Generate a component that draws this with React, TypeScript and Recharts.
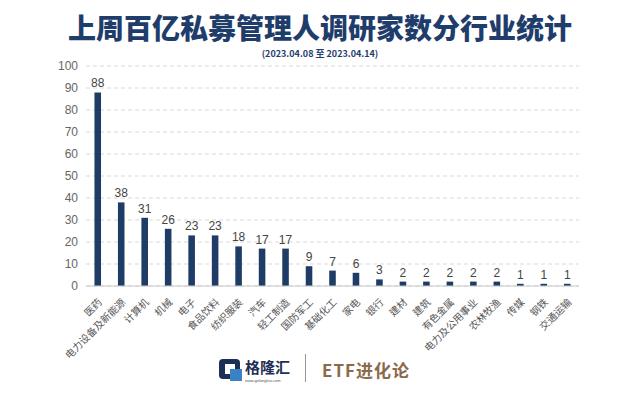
import React from 'react';
import { BarChart, Bar, XAxis, YAxis, CartesianGrid, LabelList } from 'recharts';

const industries = [
  '医药', '电力设备及新能源', '计算机', '机械', '电子', '食品饮料', '纺织服装', '汽车',
  '轻工制造', '国防军工', '基础化工', '家电', '银行', '建材', '建筑', '有色金属',
  '电力及公用事业', '农林牧渔', '传媒', '钢铁', '交通运输',
];
const counts = [88, 38, 31, 26, 23, 23, 18, 17, 17, 9, 7, 6, 3, 2, 2, 2, 2, 2, 1, 1, 1];
const yTicks = [0, 10, 20, 30, 40, 50, 60, 70, 80, 90, 100];

const chartData = industries.map((name, i) => ({ name, value: counts[i] }));

const CJK = '"Noto Sans CJK SC", "Noto Sans", sans-serif';
const LATIN = 'Arial, "Liberation Sans", sans-serif';
const barColor = '#1f3c66';

const RotatedTick = ({ x, y, payload }: any) => (
  <g transform={`translate(${x + 2},${y + 6})`}>
    <text
      x={0}
      y={0}
      dy={4}
      textAnchor="end"
      transform="rotate(-45)"
      fill="#555"
      fontSize={10}
      fontFamily={CJK}
    >
      {payload.value}
    </text>
  </g>
);

const Logo = () => (
  <div style={{ position: 'absolute', left: 219, top: 357, width: 80, height: 28 }}>
    <svg width={24} height={24} viewBox="0 0 24 24" style={{ position: 'absolute', left: 0, top: 2 }}>
      <rect x={0} y={0} width={21} height={20} rx={4} fill="#1d2f55" />
      <rect x={6} y={5} width={10} height={10} fill="#fff" />
      <rect x={11} y={10} width={12} height={12} fill="#3b82c4" />
    </svg>
    <div
      style={{
        position: 'absolute',
        left: 26,
        top: 1,
        fontFamily: CJK,
        fontWeight: 700,
        fontSize: 15,
        lineHeight: '18px',
        color: '#1d2f55',
      }}
    >
      格隆汇
    </div>
    <div
      style={{
        position: 'absolute',
        left: 26,
        top: 21,
        fontFamily: LATIN,
        fontSize: 4,
        lineHeight: '5px',
        color: '#555',
        whiteSpace: 'nowrap',
      }}
    >
      www.gelonghui.com
    </div>
  </div>
);

export default function App() {
  return (
    <div
      style={{
        position: 'fixed',
        left: 0,
        top: 0,
        width: 640,
        height: 404,
        background: '#ffffff',
        overflow: 'hidden',
      }}
    >
      <div
        style={{
          position: 'absolute',
          left: 0,
          top: 11,
          width: 640,
          textAlign: 'center',
          fontFamily: CJK,
          fontWeight: 900,
          fontSize: 28,
          color: '#1f3d6b',
          lineHeight: '32px',
        }}
      >
        上周百亿私募管理人调研家数分行业统计
      </div>
      <div
        style={{
          position: 'absolute',
          left: 0,
          top: 48,
          width: 640,
          textAlign: 'center',
          fontFamily: CJK,
          fontWeight: 700,
          fontSize: 9,
          lineHeight: '12px',
          color: '#1f3d6b',
        }}
      >
        (2023.04.08 至 2023.04.14)
      </div>
      <div style={{ position: 'absolute', left: 0, top: 0 }}>
        <BarChart
          width={640}
          height={404}
          data={chartData}
          margin={{ top: 66, right: 61, left: 56, bottom: 0 }}
          barCategoryGap="64%"
        >
          <CartesianGrid stroke="#d9d9d9" strokeDasharray="4 3" vertical={false} />
          <XAxis
            dataKey="name"
            interval={0}
            height={118}
            tick={<RotatedTick />}
            tickLine={false}
            axisLine={{ stroke: '#c8c8c8' }}
          />
          <YAxis
            width={30}
            domain={[0, 100]}
            ticks={yTicks}
            interval={0}
            axisLine={false}
            tickLine={false}
            tickMargin={2}
            tick={{ fill: '#666', fontSize: 12, fontFamily: LATIN }}
          />
          <Bar dataKey="value" fill={barColor} isAnimationActive={false}>
            <LabelList
              dataKey="value"
              position="top"
              offset={5}
              fill="#444"
              fontSize={12}
              fontFamily={LATIN}
            />
          </Bar>
        </BarChart>
      </div>
      <Logo />
      <div style={{ position: 'absolute', left: 305, top: 354, width: 1, height: 28, background: '#999' }} />
      <div
        style={{
          position: 'absolute',
          left: 322,
          top: 357,
          fontFamily: CJK,
          fontWeight: 700,
          fontSize: 17,
          letterSpacing: 1,
          color: '#8a6a4a',
        }}
      >
        ETF进化论
      </div>
    </div>
  );
}
